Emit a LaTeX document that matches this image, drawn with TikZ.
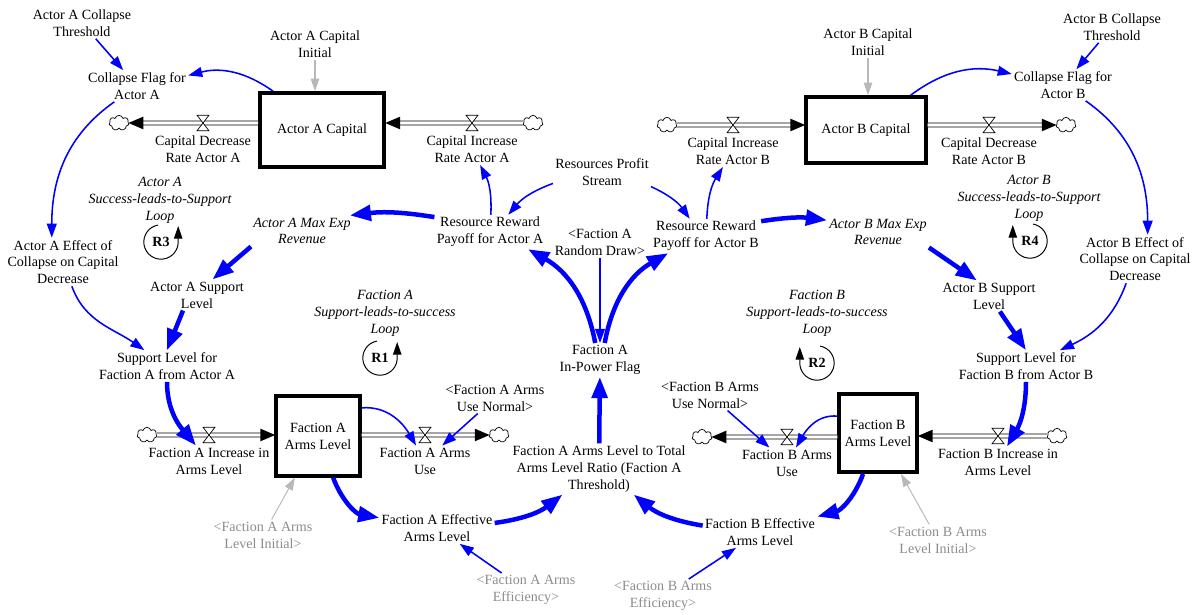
\documentclass[tikz,border=0pt]{standalone}
\usepackage{fontspec}
\setmainfont{Liberation Serif}
\usetikzlibrary{arrows.meta, shapes.symbols, decorations.markings, positioning}
\tikzstyle{aux} = [align=center, inner sep=1.5pt]
\tikzstyle{shadowvar} = [aux, text=black!45]
\tikzstyle{loopname} = [aux, font=\itshape]
\tikzstyle{loopmark} = [inner sep=0pt, font=\bfseries]
\tikzstyle{stock} = [draw, line width=2.8pt, fill=white, align=center]
\tikzstyle{cloudy} = [cloud, cloud puffs=7, aspect=1.3, draw, line width=0.5pt, fill=white, minimum width=0.5cm, minimum height=0.38cm, inner sep=0pt]
\tikzstyle{valvebox} = [minimum width=8.5pt, minimum height=11pt, inner sep=0pt, outer sep=0pt]
\tikzstyle{pipe} = [draw, line width=0.6pt, double=white, double distance=2.2pt, shorten >=9pt, postaction={decorate}, decoration={markings, mark=at position 0.9999 with {\fill[black] (0.5pt,0pt) -- (-10pt,4.5pt) -- (-10pt,-4.5pt) -- cycle;}}]
\tikzstyle{link} = [blue, line width=1.1pt, -{Triangle[length=10pt,width=7pt]}]
\tikzstyle{strong} = [blue, line width=3.2pt, -{Triangle[length=15pt,width=11pt]}]
\tikzstyle{greylink} = [black!28, line width=1pt, -{Triangle[length=9pt,width=6pt]}]
\tikzstyle{loopline} = [line width=0.7pt, -{Triangle[length=9pt,width=6pt]}]
\newcommand{\flowvalve}[2]{%
  \node[valvebox] (#1) at (#2) {};
  \draw[line width=0.5pt, fill=white] (#1.north west) -- (#1.north east) -- (#1.south west) -- (#1.south east) -- cycle;}

\begin{document}
\begin{tikzpicture}[x=0.025cm, y=-0.025cm, node distance=2pt]
\useasboundingbox (0,0) rectangle (1192,615);

% stocks
\node[stock, minimum width=3.1cm, minimum height=1.84cm] (capA) at (322,130) {Actor A Capital};
\node[stock, minimum width=2.98cm, minimum height=1.64cm] (capB) at (866,130) {Actor B Capital};
\node[stock, minimum width=2.08cm, minimum height=1.98cm] (armsA) at (318,436) {Faction A\\Arms Level};
\node[stock, minimum width=1.93cm, minimum height=1.95cm] (armsB) at (878,433) {Faction B\\Arms Level};

% clouds and pipes
\node[cloudy] (cldA1) at (119,123) {};
\node[cloudy] (cldA2) at (533,123) {};
\node[cloudy] (cldB1) at (667,125) {};
\node[cloudy] (cldB2) at (1066,125) {};
\node[cloudy] (cldFA1) at (147,435) {};
\node[cloudy] (cldFA2) at (499,435) {};
\node[cloudy] (cldFB1) at (702,437) {};
\node[cloudy] (cldFB2) at (1057,436) {};
\draw[pipe] (cldA1 -| capA.west) -- (cldA1);
\draw[pipe] (cldA2) -- (cldA2 -| capA.east);
\draw[pipe] (cldB1) -- (cldB1 -| capB.west);
\draw[pipe] (cldB2 -| capB.east) -- (cldB2);
\draw[pipe] (cldFA1) -- (cldFA1 -| armsA.west);
\draw[pipe] (cldFA2 -| armsA.east) -- (cldFA2);
\draw[pipe] (cldFB1 -| armsB.west) -- (cldFB1);
\draw[pipe] (cldFB2) -- (cldFB2 -| armsB.east);

% valves and rates
\flowvalve{vA1}{203,123}
\flowvalve{vA2}{472,123}
\flowvalve{vB1}{733,125}
\flowvalve{vB2}{989,125}
\flowvalve{vFA1}{209,435}
\flowvalve{vFA2}{425,435}
\flowvalve{vFB1}{787,437}
\flowvalve{vFB2}{998,436}
\node[aux, below=of vA1] (decA) {Capital Decrease\\Rate Actor A};
\node[aux, below=of vA2] (incA) {Capital Increase\\Rate Actor A};
\node[aux, below=of vB1] (incB) {Capital Increase\\Rate Actor B};
\node[aux, below=of vB2] (decB) {Capital Decrease\\Rate Actor B};
\node[aux, below=of vFA1] (incFA) {Faction A Increase in\\Arms Level};
\node[aux, below=of vFA2] (useFA) {Faction A Arms\\Use};
\node[aux, below=of vFB1] (useFB) {Faction B Arms\\Use};
\node[aux, below=of vFB2] (incFB) {Faction B Increase in\\Arms Level};

% auxiliaries
\node[aux] (threshA) at (82,23) {Actor A Collapse\\Threshold};
\node[aux] (initCapA) at (315,44) {Actor A Capital\\Initial};
\node[aux] (flagA) at (137,86) {Collapse Flag for\\Actor A};
\node[aux] (effA) at (63,262) {Actor A Effect of\\Collapse on Capital\\Decrease};
\node[loopname] (loopA) at (160,200) {Actor A\\Success-leads-to-Support\\Loop};
\node[loopname] (maxA) at (302,231) {Actor A Max Exp\\Revenue};
\node[aux] (supA) at (197,295) {Actor A Support\\Level};
\node[aux] (slfA) at (167,366) {Support Level for\\Faction A from Actor A};
\node[aux] (rps) at (602,172) {Resources Profit\\Stream};
\node[aux] (rrA) at (490,232) {Resource Reward\\Payoff for Actor A};
\node[aux] (rd) at (600,242) {<Faction A\\Random Draw>};
\node[aux] (rrB) at (706,236) {Resource Reward\\Payoff for Actor B};
\node[aux] (threshB) at (1112,27) {Actor B Collapse\\Threshold};
\node[aux] (initCapB) at (868,42) {Actor B Capital\\Initial};
\node[aux] (flagB) at (1063,85) {Collapse Flag for\\Actor B};
\node[loopname] (loopB) at (1029,198) {Actor B\\Success-leads-to-Support\\Loop};
\node[loopname] (maxB) at (878,232) {Actor B Max Exp\\Revenue};
\node[aux] (effB) at (1135,259) {Actor B Effect of\\Collapse on Capital\\Decrease};
\node[aux] (supB) at (989,296) {Actor B Support\\Level};
\node[aux] (slfB) at (1026,366) {Support Level for\\Faction B from Actor B};
\node[loopname] (loopFA) at (385,313) {Faction A\\Support-leads-to-success\\Loop};
\node[loopname] (loopFB) at (817,313) {Faction B\\Support-leads-to-success\\Loop};
\node[aux] (ifa) at (600,360) {Faction A\\In-Power Flag};
\node[aux] (normFA) at (495,398) {<Faction A Arms\\Use Normal>};
\node[aux] (normFB) at (710,395) {<Faction B Arms\\Use Normal>};
\node[aux] (ratio) at (599,469) {Faction A Arms Level to Total\\Arms Level Ratio (Faction A\\Threshold)};
\node[aux] (effFA) at (437,528) {Faction A Effective\\Arms Level};
\node[aux] (effFB) at (760,532) {Faction B Effective\\Arms Level};
\node[shadowvar] (initFA) at (263,535) {<Faction A Arms\\Level Initial>};
\node[shadowvar] (initFB) at (938,540) {<Faction B Arms\\Level Initial>};
\node[shadowvar] (efcA) at (526,590) {<Faction A Arms\\Efficiency>};
\node[shadowvar] (efcB) at (663,596) {<Faction B Arms\\Efficiency>};

% loop markers
\node[loopmark] (R3) at (161,242) {R3};
\node[loopmark] (R1) at (380,358) {R1};
\node[loopmark] (R2) at (817,363) {R2};
\node[loopmark] (R4) at (1030,241) {R4};
\draw[loopline] ([shift={(100:0.43cm)}]R3.center) arc[start angle=100, end angle=360, radius=0.43cm] -- ++(0,-16);
\draw[loopline] ([shift={(100:0.43cm)}]R1.center) arc[start angle=100, end angle=360, radius=0.43cm] -- ++(0,-16);
\draw[loopline] ([shift={(80:0.43cm)}]R2.center) arc[start angle=80, end angle=-180, radius=0.43cm] -- ++(0,-16);
\draw[loopline] ([shift={(80:0.43cm)}]R4.center) arc[start angle=80, end angle=-180, radius=0.43cm] -- ++(0,-16);

% thin links
\draw[link] (capA) to[bend right=25] (flagA);
\draw[link] (threshA) -- (flagA);
\draw[link] (flagA) to[out=215, in=90] ([xshift=-8pt]effA.north);
\draw[link] (effA) to[out=-70, in=145] (slfA);
\draw[link] (rps) to[bend right=15] (rrA);
\draw[link] (rps) to[bend left=15] (rrB);
\draw[link] (rrA) to[bend right=15] (incA);
\draw[link] (rrB) to[bend left=15] (incB);
\draw[link] (rd) -- (ifa);
\draw[link] (capB) to[bend left=25] (flagB);
\draw[link] (threshB) -- (flagB);
\draw[link] (flagB) to[out=-35, in=90] ([xshift=9pt]effB.north);
\draw[link] (effB) to[out=-110, in=25] (slfB);
\draw[link] ([yshift=20pt]armsA.east) to[out=5, in=120] (useFA);
\draw[link] (normFA) -- (useFA);
\draw[link] ([yshift=12pt]armsB.west) to[out=175, in=60] (useFB);
\draw[link] (normFB) -- (useFB);
\draw[link] (efcA) -- (effFA);
\draw[link] (efcB) -- (effFB);
\draw[greylink] (initCapA.south) -- (initCapA.south |- capA.north);
\draw[greylink] (initCapB.south) -- (initCapB.south |- capB.north);
\draw[greylink, line width=0.7pt] (initFA) -- (armsA);
\draw[greylink, line width=0.7pt] (initFB) -- (armsB);

% thick links
\draw[strong] (rrA.165) to[bend right=8] (maxA.18);
\draw[strong] (maxA.south west) -- (supA.45);
\draw[strong] (supA.228) -- (slfA.north);
\draw[strong] (slfA.south) to[out=-90, in=130] (incFA);
\draw[strong] (armsA) to[out=-70, in=170] (effFA);
\draw[strong] (effFA) to[bend right=15] (ratio);
\draw[strong] (effFB) to[bend left=15] (ratio);
\draw[strong] (armsB) to[out=-110, in=15] (effFB);
\draw[strong] (ratio) -- (ifa);
\draw[strong] (ifa) to[bend right=25] (rrA);
\draw[strong] (ifa) to[bend left=25] (rrB);
\draw[strong] (rrB.15) to[bend left=8] (maxB.167);
\draw[strong] (maxB.south east) -- (supB.128);
\draw[strong] (supB.-55) -- (slfB.north);
\draw[strong] (slfB.south) to[out=-90, in=60] (incFB);
\end{tikzpicture}
\end{document}
